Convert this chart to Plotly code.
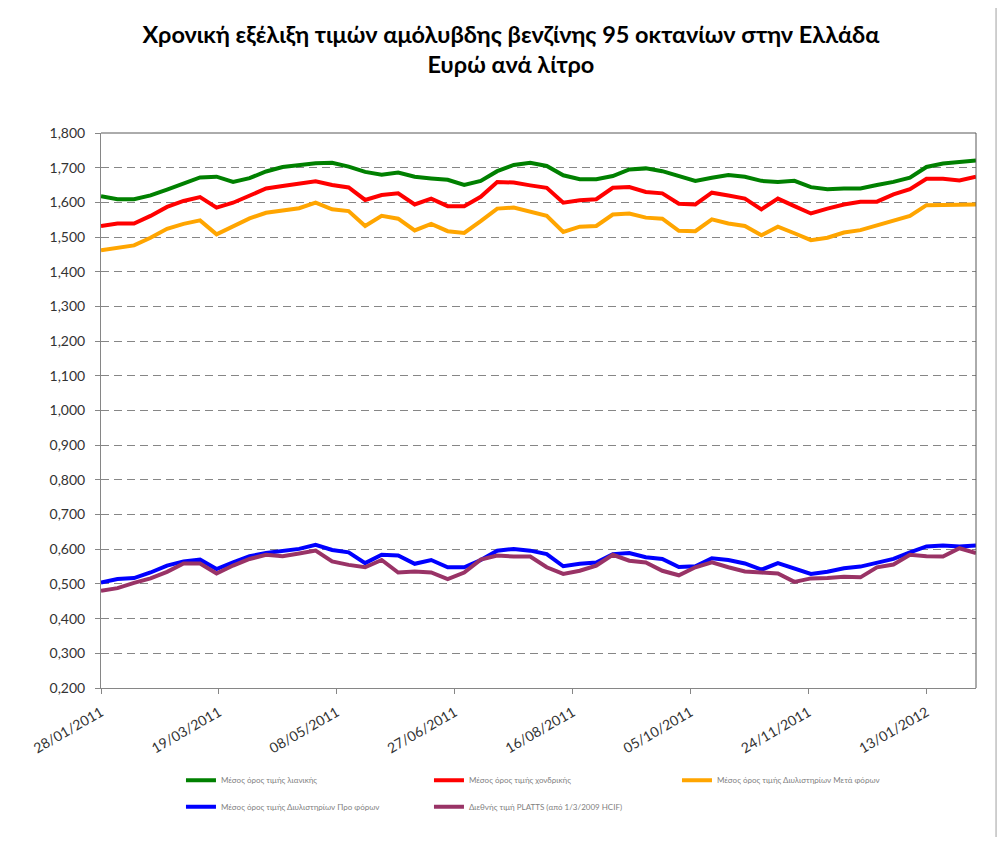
import pandas as pd
import plotly.graph_objects as go

dates = pd.date_range("2011-01-28", periods=54, freq="7D")

retail = [1.618,1.609,1.609,1.620,1.637,1.655,1.672,1.674,1.659,1.670,1.689,1.702,1.708,1.713,1.714,1.703,1.688,1.680,
          1.686,1.674,1.669,1.665,1.650,1.662,1.690,1.708,1.714,1.705,1.678,1.667,1.667,1.676,1.695,1.698,1.690,1.676,
          1.662,1.671,1.679,1.674,1.662,1.659,1.662,1.644,1.638,1.640,1.640,1.650,1.659,1.671,1.702,1.712,1.716,1.721]
wholesale = [1.532,1.539,1.539,1.561,1.587,1.604,1.615,1.585,1.599,1.620,1.640,1.647,1.655,1.661,1.650,1.643,1.607,1.621,
             1.626,1.594,1.611,1.589,1.589,1.616,1.659,1.657,1.649,1.642,1.599,1.606,1.609,1.642,1.644,1.630,1.626,1.596,
             1.594,1.628,1.620,1.611,1.580,1.611,1.589,1.568,1.582,1.594,1.602,1.602,1.623,1.638,1.668,1.668,1.663,1.674]
refinery_after_tax = [1.462,1.469,1.476,1.498,1.524,1.538,1.548,1.508,1.530,1.554,1.570,1.577,1.583,1.599,1.580,1.575,1.532,1.561,
                      1.553,1.519,1.538,1.517,1.512,1.546,1.582,1.585,1.572,1.561,1.515,1.530,1.532,1.565,1.568,1.556,1.553,1.518,
                      1.517,1.551,1.539,1.532,1.505,1.530,1.511,1.491,1.498,1.513,1.520,1.534,1.546,1.561,1.592,1.592,1.592,1.594]
refinery_pre_tax = [0.504,0.514,0.517,0.533,0.553,0.565,0.570,0.543,0.562,0.580,0.589,0.594,0.601,0.613,0.598,0.591,0.560,0.584,
                    0.582,0.558,0.569,0.548,0.548,0.569,0.596,0.601,0.596,0.586,0.551,0.558,0.562,0.586,0.589,0.577,0.572,0.549,
                    0.551,0.574,0.569,0.559,0.541,0.560,0.543,0.529,0.535,0.545,0.550,0.562,0.572,0.591,0.608,0.611,0.608,0.611]
platts = [0.480,0.488,0.503,0.516,0.535,0.559,0.559,0.530,0.553,0.572,0.584,0.580,0.588,0.596,0.565,0.555,0.548,0.569,
          0.533,0.536,0.533,0.514,0.533,0.570,0.582,0.579,0.579,0.548,0.529,0.538,0.553,0.584,0.567,0.562,0.538,0.525,
          0.548,0.562,0.548,0.536,0.533,0.530,0.506,0.516,0.517,0.521,0.519,0.548,0.556,0.584,0.580,0.579,0.603,0.589]

series_names = [
    "Μέσος όρος τιμής λιανικής",
    "Μέσος όρος τιμής χονδρικής",
    "Μέσος όρος τιμής Διυλιστηρίων Μετά φόρων",
    "Μέσος όρος τιμής Διυλιστηρίων Προ φόρων",
    "Διεθνής τιμή PLATTS (από 1/3/2009 HCIF)",
]
series_values = [retail, wholesale, refinery_after_tax, refinery_pre_tax, platts]
series_colors = ["#008000", "#FF0000", "#FFA500", "#0000FF", "#993366"]
series_legend = ["legend", "legend", "legend", "legend2", "legend2"]

tick_dates = ["2011-01-28", "2011-03-19", "2011-05-08", "2011-06-27",
              "2011-08-16", "2011-10-05", "2011-11-24", "2012-01-13"]
tick_labels = ["28/01/2011", "19/03/2011", "08/05/2011", "27/06/2011",
               "16/08/2011", "05/10/2011", "24/11/2011", "13/01/2012"]

fig = go.Figure()
for name, vals, col, lg in zip(series_names, series_values, series_colors, series_legend):
    fig.add_trace(go.Scatter(x=dates, y=vals, name=name, mode="lines",
                             line=dict(color=col, width=4), legend=lg))

legend_common = dict(
    orientation="h", xanchor="left", yanchor="top",
    entrywidth=203, entrywidthmode="pixels",
    font=dict(family="Lato", size=8, color="#7f7f7f"),
    bgcolor="rgba(0,0,0,0)", itemwidth=30,
)

fig.update_layout(
    width=990, height=829,
    paper_bgcolor="white", plot_bgcolor="white",
    separators=",.",
    margin=dict(l=93, r=22, t=125, b=149),
    title=dict(
        text="<b>Χρονική εξέλιξη τιμών αμόλυβδης βενζίνης 95 οκτανίων στην Ελλάδα<br>Ευρώ ανά λίτρο</b>",
        x=0.508, xanchor="center", y=0.958, yanchor="top",
        font=dict(family="Lato", size=23.5, color="#000000"),
    ),
    font=dict(family="Lato", size=11, color="#333333"),
    xaxis=dict(
        type="date",
        range=[dates[0], dates[-1]],
        tickmode="array", tickvals=tick_dates, ticktext=tick_labels,
        tickangle=-30, ticks="outside", ticklen=5, tickcolor="#868686",
        ticklabelstandoff=5,
        showgrid=False, showline=True, linecolor="#868686", linewidth=1,
        tickfont=dict(family="Lato", size=14, color="#333333"),
        zeroline=False,
    ),
    yaxis=dict(
        range=[0.2, 1.8], dtick=0.1, tick0=0.2, tickformat=".3f",
        ticks="outside", ticklen=5, tickcolor="#868686",
        ticklabelstandoff=7,
        showgrid=True, gridcolor="#868686", griddash="8px,5px", gridwidth=1,
        showline=True, linecolor="#868686", linewidth=1,
        tickfont=dict(family="Lato", size=14, color="#333333"),
        zeroline=False,
    ),
    legend=dict(x=0.0914, y=-0.14, **legend_common),
    legend2=dict(x=0.0914, y=-0.188, **legend_common),
    shapes=[
        dict(type="rect", xref="paper", yref="paper",
             x0=-0.1086, x1=1.0229, y0=-0.3, y1=1.236,
             line=dict(color="#A0A0A0", width=1), fillcolor="rgba(0,0,0,0)"),
        dict(type="line", xref="paper", yref="paper", x0=0, x1=1, y0=1, y1=1,
             line=dict(color="#595959", width=1)),
        dict(type="line", xref="paper", yref="paper", x0=1, x1=1, y0=0, y1=1,
             line=dict(color="#595959", width=1)),
    ],
)

fig.write_html("out.html")
